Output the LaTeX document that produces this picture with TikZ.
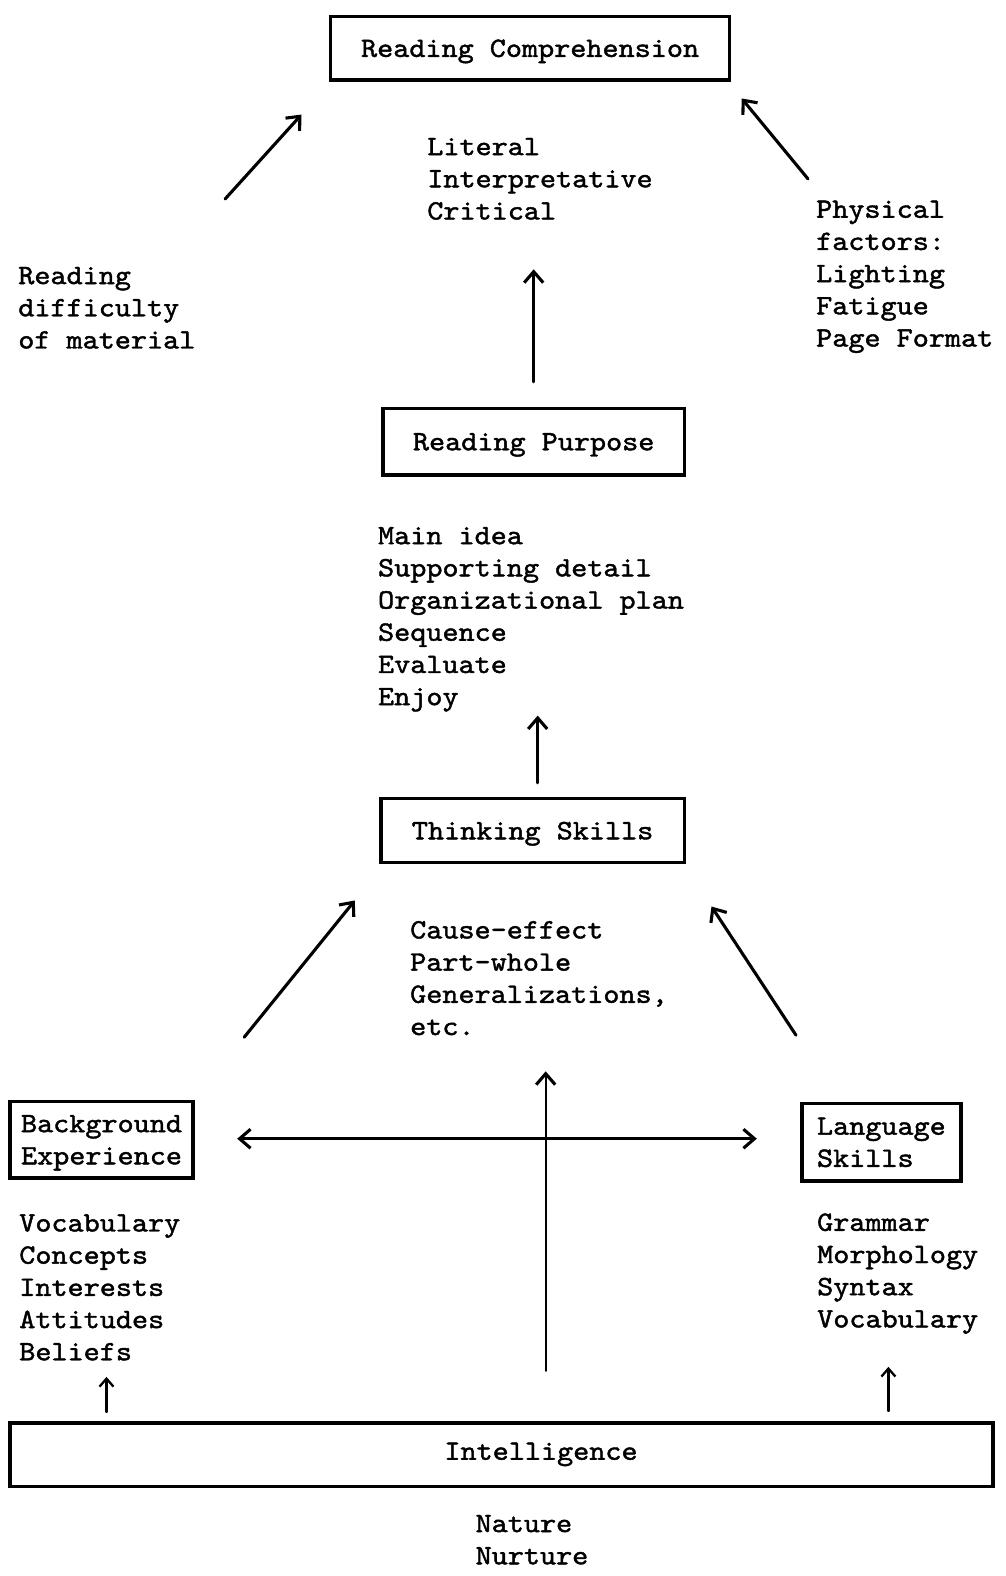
\documentclass[tikz,border=0pt]{standalone}
\usepackage{fontspec}
\newfontfamily\tw[FakeStretch=1.095,FakeBold=1.5,Extension=.otf]{lmmono10-regular}
\usetikzlibrary{arrows.meta}
\begin{document}
\begin{tikzpicture}[x=1pt,y=-1pt,
  tfont/.style={font=\tw\fontsize{28}{32.2}\selectfont},
  txt/.style={tfont, inner sep=0pt, align=left, anchor=west},
  box/.style={draw, line width=3.4pt, tfont, inner sep=0pt, align=left, text depth=0pt},
  arr/.style={line width=3.1pt, line cap=round, -{Straight Barb[length=11pt,width=19pt,line width=3.1pt]}},
  darr/.style={line width=3.1pt, {Straight Barb[length=11pt,width=19pt,line width=3.1pt]}-{Straight Barb[length=11pt,width=19pt,line width=3.1pt]}},
  sarr/.style={line width=2.3pt, line cap=round, -{Straight Barb[length=8pt,width=14pt,line width=2.3pt]}}]
\useasboundingbox[fill=white] (0,0) rectangle (1006,1576);

% boxes
\node[box, minimum width=399pt, minimum height=63.3pt] (rc) at (530.1,48.2) {Reading Comprehension};
\node[box, minimum width=301.5pt, minimum height=66.3pt] (rp) at (533.7,441.7) {Reading Purpose};
\node[box, minimum width=303.5pt, minimum height=64.3pt] (ts) at (532.6,830.6) {Thinking Skills};
\node[box, minimum width=183pt, minimum height=76.4pt] (be) at (101.5,1139.7) {Background\\Experience};
\node[box, minimum width=158.8pt, minimum height=77.4pt] (ls) at (881.4,1142.2) {Language\\Skills};
\node[box, minimum width=983pt, minimum height=63.4pt,
  label={[tfont, text depth=0pt, xshift=39.5pt, yshift=3.5pt]center:Intelligence}] (int) at (501.5,1454.7) {};

% text blocks
\node[txt] (lit) at (427.1,178.9) {Literal\\Interpretative\\Critical};
\node[txt] (diff) at (18.1,307.8) {Reading\\difficulty\\of material};
\node[txt] (phys) at (816,276.8) {Physical\\factors:\\Lighting\\Fatigue\\Page Format};
\node[txt] (purp) at (377.9,619.3) {Main idea\\Supporting detail\\Organizational plan\\Sequence\\Evaluate\\Enjoy};
\node[txt] (cause) at (410,978.1) {Cause-effect\\Part-whole\\Generalizations,\\etc.};
\node[txt] (voc) at (19.1,1287.4) {Vocabulary\\Concepts\\Interests\\Attitudes\\Beliefs};
\node[txt] (gram) at (817,1273.6) {Grammar\\Morphology\\Syntax\\Vocabulary};
\node[txt] (nat) at (475.4,1539.7) {Nature\\Nurture};

% arrow end points
\coordinate (a1s) at (225.1,199);   \coordinate (a1e) at (301.5,114.6);
\coordinate (a2s) at (808,178.9);   \coordinate (a2e) at (741.7,98.5);
\coordinate (a3s) at (533.7,381.9); \coordinate (a3e) at (533.7,269.3);
\coordinate (a4s) at (537.7,782.9); \coordinate (a4e) at (537.7,715.6);
\coordinate (a5s) at (244.2,1037.2); \coordinate (a5e) at (354.8,900.5);
\coordinate (a6s) at (796,1035.2);  \coordinate (a6e) at (711.5,906.5);
\coordinate (a7s) at (545.7,1370.8); \coordinate (a7e) at (545.7,1071.3);
\coordinate (a8s) at (237.2,1138.7); \coordinate (a8e) at (756.8,1138.7);
\coordinate (a9s) at (106.5,1412);  \coordinate (a9e) at (106.5,1376.9);
\coordinate (a10s) at (888.4,1411); \coordinate (a10e) at (888.4,1366.8);

\draw[arr] (a1s) -- (a1e);
\draw[arr] (a2s) -- (a2e);
\draw[arr] (a3s) -- (a3e);
\draw[arr] (a4s) -- (a4e);
\draw[arr] (a5s) -- (a5e);
\draw[arr] (a6s) -- (a6e);
\draw[arr, line width=2.4pt] (a7s) -- (a7e);
\draw[darr] (a8s) -- (a8e);
\draw[sarr] (a9s) -- (a9e);
\draw[sarr] (a10s) -- (a10e);
\end{tikzpicture}
\end{document}
